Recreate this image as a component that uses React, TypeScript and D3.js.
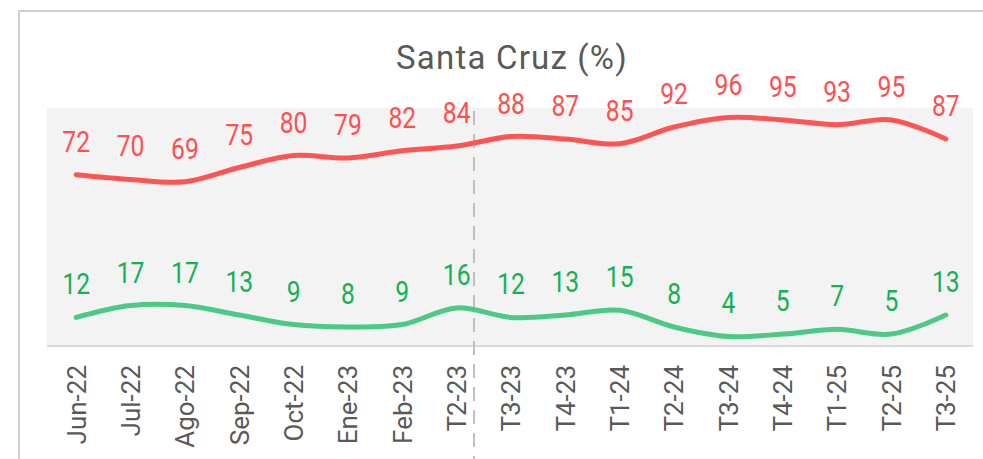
import React from "react"
import * as d3 from "d3"

// Santa Cruz (%) - dos series suavizadas con etiquetas de valor
const categories = [
  "Jun-22", "Jul-22", "Ago-22", "Sep-22", "Oct-22", "Ene-23", "Feb-23", "T2-23",
  "T3-23", "T4-23", "T1-24", "T2-24", "T3-24", "T4-24", "T1-25", "T2-25", "T3-25",
]
const redValues = [72, 70, 69, 75, 80, 79, 82, 84, 88, 87, 85, 92, 96, 95, 93, 95, 87]
const greenValues = [12, 17, 17, 13, 9, 8, 9, 16, 12, 13, 15, 8, 4, 5, 7, 5, 13]
const dividerAfter = "T2-23"

const W = 983
const H = 459
const plot = { left: 47, right: 973, top: 108, bottom: 346 }
const font = "Roboto, 'DejaVu Sans', sans-serif"

export default function App() {
  const x = d3
    .scaleBand<string>()
    .domain(categories)
    .range([plot.left + 2, plot.right])
  const cx = (c: string) => (x(c) as number) + x.bandwidth() / 2

  const y = d3.scaleLinear().domain([0, 100]).range([plot.bottom, plot.top])

  const line = d3
    .line<number>()
    .x((_, i) => cx(categories[i]))
    .y((d) => y(d))
    .curve(d3.curveCatmullRom.alpha(0.5))

  const series = [
    { values: redValues, stroke: "#FF5454", label: "#FF4F4F" },
    { values: greenValues, stroke: "#4DC986", label: "#12B155" },
  ]

  const divX = cx(dividerAfter) + x.bandwidth() * 0.32

  return (
    <svg
      width={W}
      height={H}
      style={{ position: "absolute", left: 0, top: 0, background: "#fff" }}
    >
      {/* marco */}
      <rect x={19} y={11} width={W} height={H} fill="none" stroke="#d0d0d0" strokeWidth={2} />

      <text
        x={512}
        y={69}
        textAnchor="middle"
        fontFamily={font}
        fontSize={33}
        letterSpacing={1.2}
        fill="#595959"
      >
        Santa Cruz (%)
      </text>

      <rect
        x={plot.left}
        y={plot.top}
        width={plot.right - plot.left}
        height={plot.bottom - plot.top}
        fill="#f3f3f3"
      />
      <line
        x1={plot.left}
        x2={plot.right}
        y1={plot.bottom}
        y2={plot.bottom}
        stroke="#d9d9d9"
        strokeWidth={2}
      />

      <line
        x1={divX}
        x2={divX}
        y1={plot.top + 3}
        y2={H}
        stroke="#bfbfbf"
        strokeWidth={2}
        strokeDasharray="14 9"
      />

      {series.map((s, k) => (
        <g key={k}>
          <path
            d={line(s.values) || ""}
            fill="none"
            stroke={s.stroke}
            strokeWidth={5}
            strokeLinecap="round"
          />
          {s.values.map((v, i) => (
            <text
              key={i}
              transform={`translate(${cx(categories[i])},${y(v) - 23}) scale(0.85,1)`}
              textAnchor="middle"
              fontFamily={font}
              fontSize={29}
              fill={s.label}
            >
              {v}
            </text>
          ))}
        </g>
      ))}

      {categories.map((c) => (
        <text
          key={c}
          transform={`translate(${cx(c)},${365}) rotate(-90)`}
          dy="0.36em"
          textAnchor="end"
          fontFamily={font}
          fontSize={26}
          fill="#595959"
        >
          {c}
        </text>
      ))}
    </svg>
  )
}
